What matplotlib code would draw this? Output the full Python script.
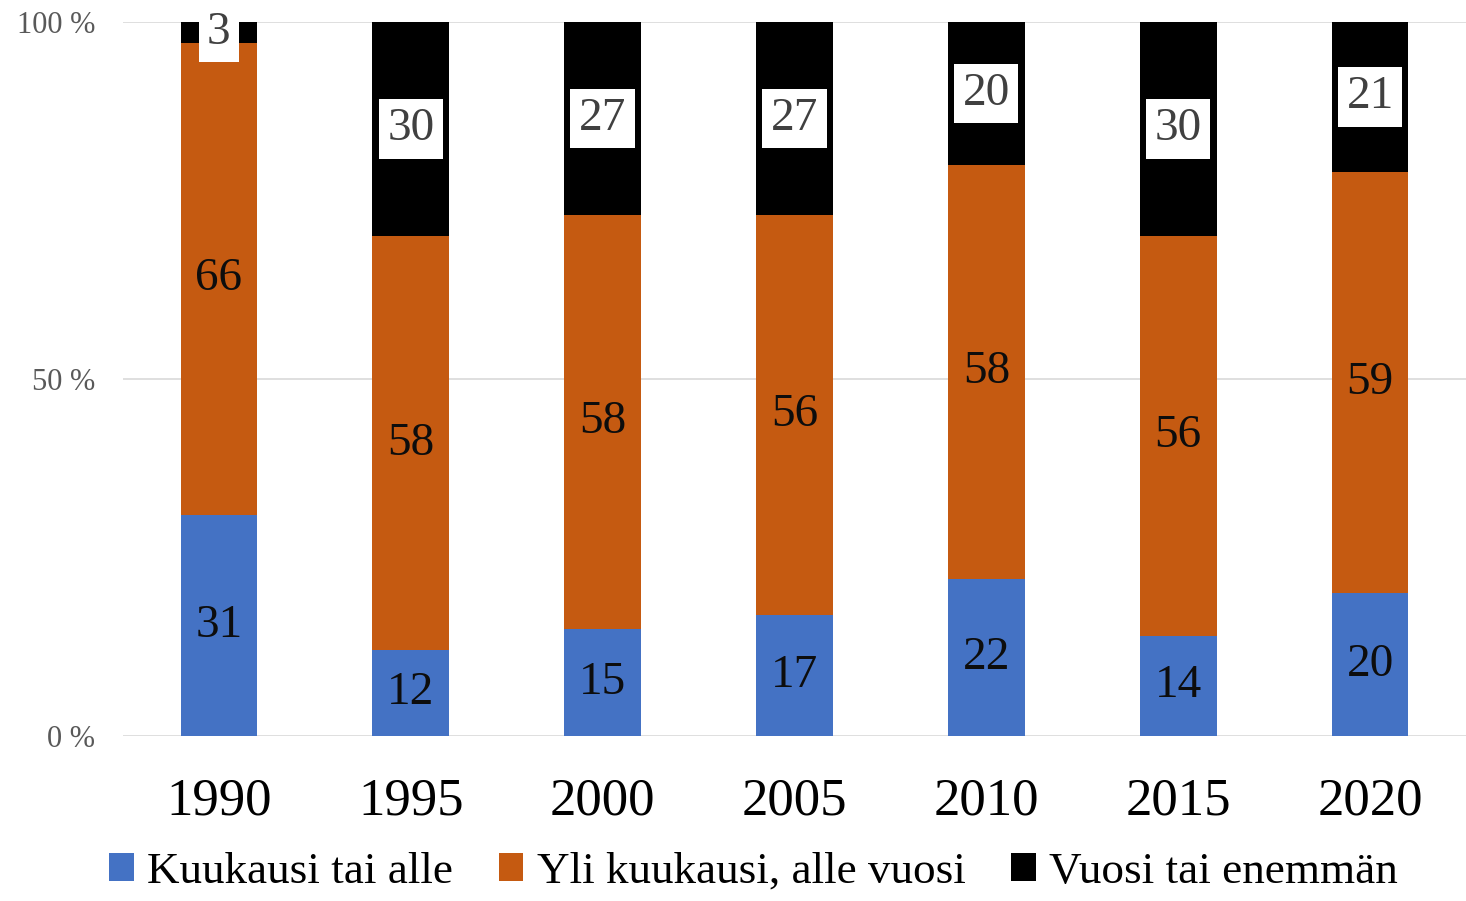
import matplotlib
matplotlib.use("Agg")
import matplotlib.pyplot as plt
from matplotlib.ticker import FuncFormatter

plt.rcParams['font.family'] = ['Liberation Serif', 'DejaVu Serif']

years = ["1990", "1995", "2000", "2005", "2010", "2015", "2020"]
short = [31, 12, 15, 17, 22, 14, 20]    # Kuukausi tai alle
middle = [66, 58, 58, 56, 58, 56, 59]   # Yli kuukausi, alle vuosi
long_ = [3, 30, 27, 27, 20, 30, 21]     # Vuosi tai enemmän
names = ["Kuukausi tai alle", "Yli kuukausi, alle vuosi", "Vuosi tai enemmän"]
colors = ["#4472C4", "#C55A11", "#000000"]

fig = plt.figure(figsize=(14.66, 9.01), dpi=100)
ax = fig.add_axes([0.0839, 0.1831, 0.9161, 0.7925])

x = range(len(years))
w = 0.4
bottom = [0] * len(years)
for vals, name, col in zip([short, middle, long_], names, colors):
    ax.bar(x, vals, w, bottom=bottom, color=col, label=name, zorder=3)
    for i, v in enumerate(vals):
        yc = bottom[i] + v / 2
        if col == "#000000":
            ax.text(i, yc, str(v), ha='center', va='center', fontsize=34,
                    color='#404040', zorder=5,
                    bbox=dict(boxstyle='square,pad=0.18', fc='white', ec='none'))
        else:
            ax.text(i, yc, str(v), ha='center', va='center', fontsize=34,
                    color='#0d0d0d', zorder=5)
    bottom = [b + v for b, v in zip(bottom, vals)]

ax.set_xlim(-0.5, 6.5)
ax.set_ylim(0, 100)
ax.set_yticks([0, 50, 100])
ax.yaxis.set_major_formatter(FuncFormatter(lambda v, p: "%d %%" % v))
ax.set_xticks(list(x))
ax.set_xticklabels(years, fontsize=38)
ax.tick_params(axis='y', labelsize=22, labelcolor='#595959', length=0, pad=20)
ax.tick_params(axis='x', length=0, pad=30)
ax.grid(axis='y', color='#d9d9d9', linewidth=1.2, zorder=0)
for s in ax.spines.values():
    s.set_visible(False)

leg = fig.legend(loc='lower center', bbox_to_anchor=(0.514, -0.035), ncol=3,
                 fontsize=32.5, frameon=False, handlelength=0.55, handleheight=0.55,
                 handletextpad=0.3, columnspacing=1.0)

fig.savefig("out.png", dpi=100)
